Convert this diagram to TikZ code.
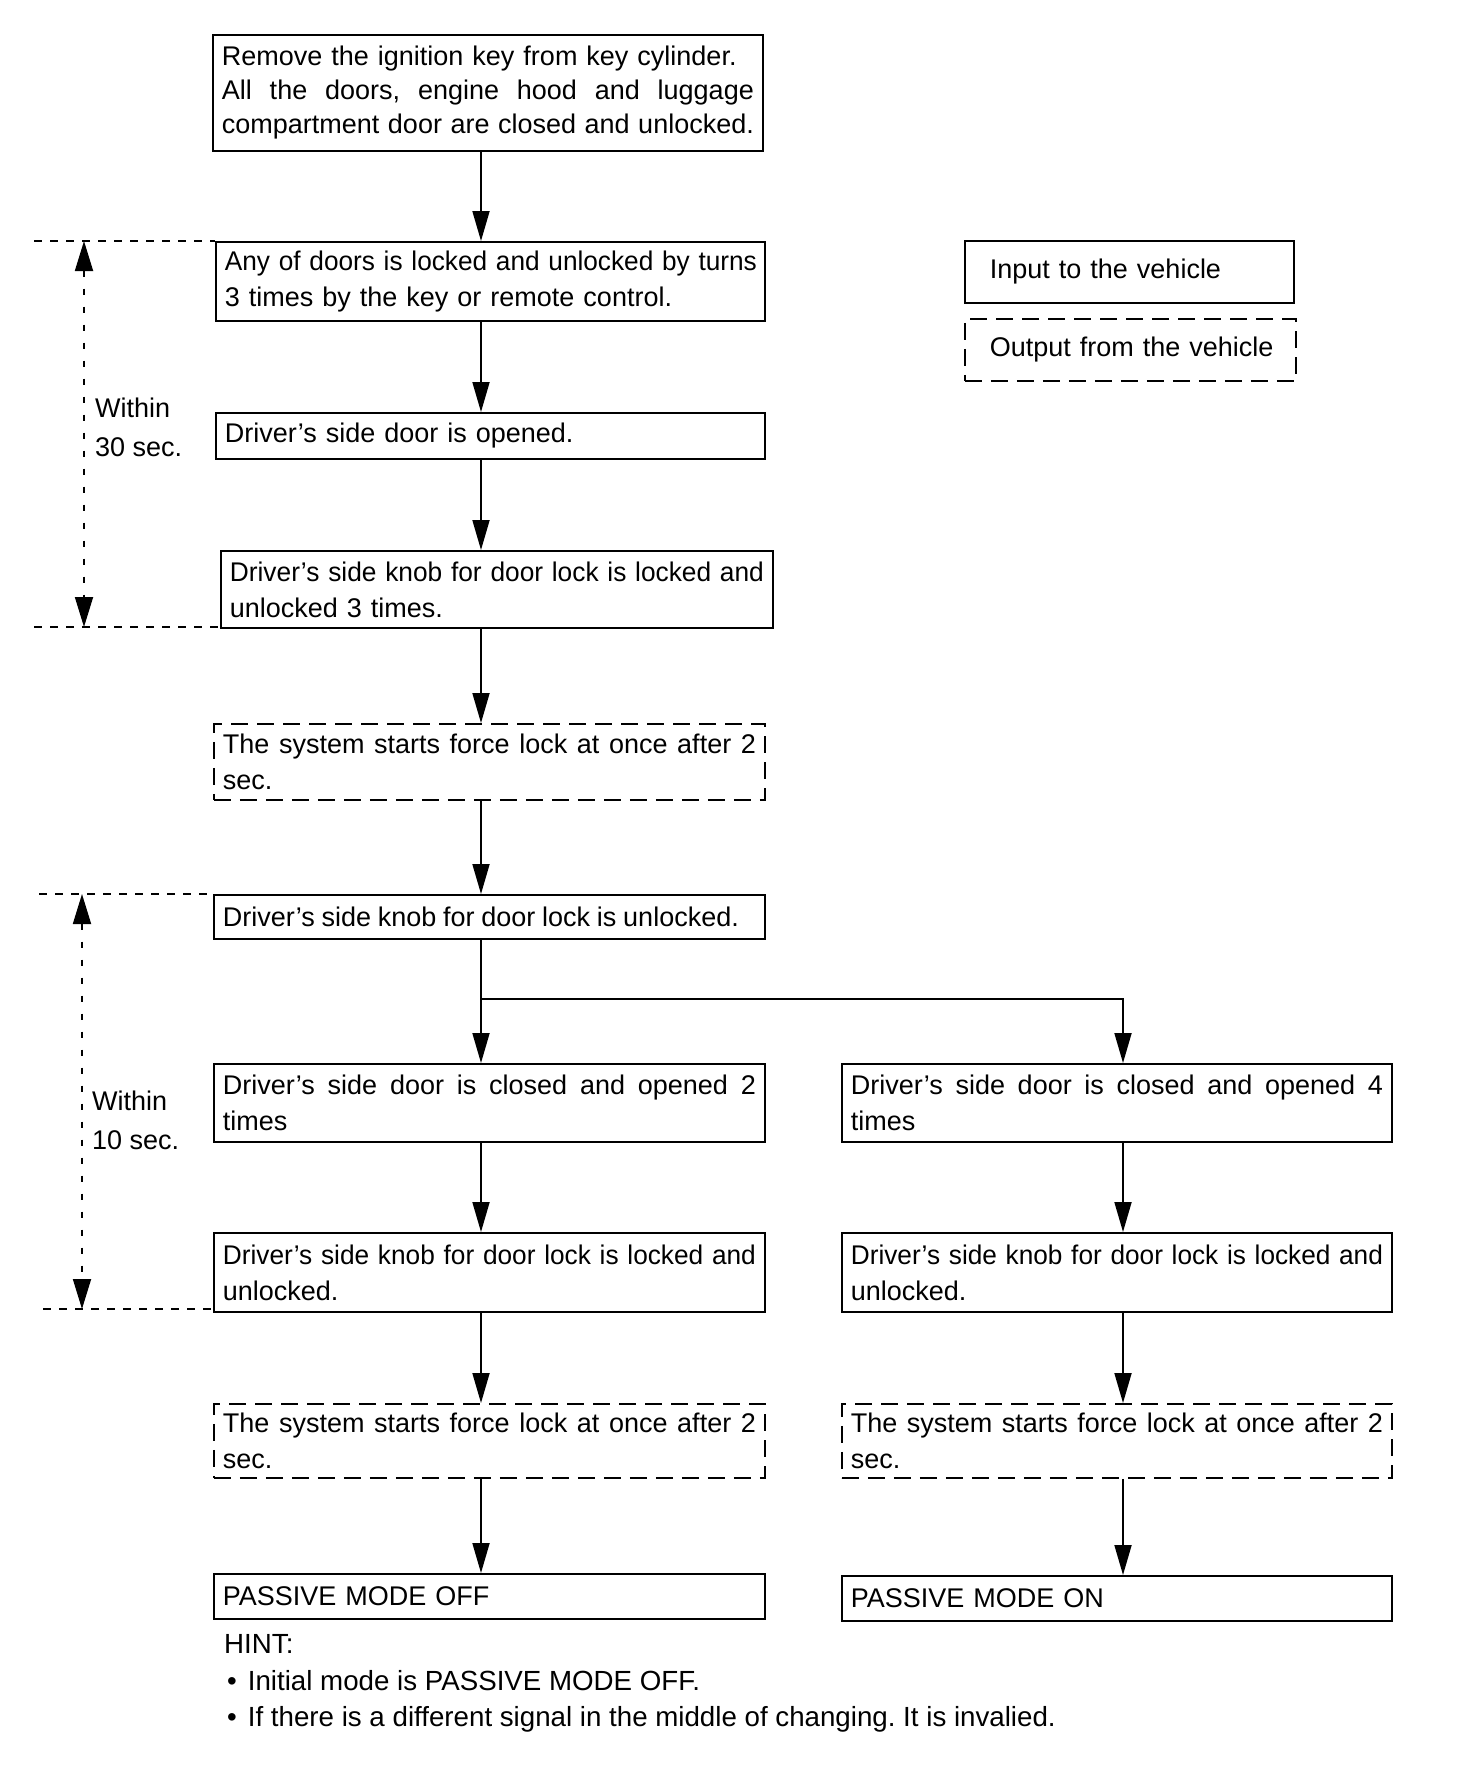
\documentclass[tikz,border=0pt]{standalone}
\usepackage{fontspec}
\usepackage{graphicx}
\setmainfont{Liberation Sans}
\usetikzlibrary{arrows.meta}
\newcommand{\jl}[2][533pt]{\leavevmode\hbox to #1{\spaceskip=7.5pt plus 40pt minus 2.5pt\relax #2}}
\newcommand{\sq}[2][533pt]{\leavevmode\resizebox{#1}{\height}{#2}}
\frenchspacing
\begin{document}
\begin{tikzpicture}[x=1pt,y=-1pt,
  box/.style={draw, line width=1.8pt, anchor=north west, inner xsep=9pt, inner ysep=0pt,
              align=left, font=\fontsize{27}{36}\selectfont},
  dbox/.style={box, dash pattern=on 17pt off 9pt},
  arr/.style={line width=1.8pt, -{Triangle[length=30pt,width=17pt]}},
  brk/.style={line width=1.6pt, dash pattern=on 8pt off 8pt},
  vdot/.style={line width=1.8pt, dash pattern=on 6pt off 12pt,
               {Triangle[length=30pt,width=18pt]}-{Triangle[length=30pt,width=18pt]}},
  lbl/.style={anchor=base west, inner sep=0pt, font=\fontsize{27}{36}\selectfont},
  hnt/.style={anchor=base west, inner sep=0pt, font=\fontsize{27.7}{36}\selectfont}]
\fill[white] (0,0) rectangle (1456,1766);
\useasboundingbox (0,0) rectangle (1456,1766);

% column axes
\coordinate (axL) at (481,0);
\coordinate (axR) at (1123,0);

% main boxes
\node[box, text width=532pt, minimum height=116pt, font=\fontsize{27}{34}\selectfont] (b1) at (212,34)
  {\mbox{Remove the ignition key from key cylinder.}\\\jl[532pt]{All the doors, engine hood and luggage}\\\jl[532pt]{compartment door are closed and unlocked.}};
\node[box, text width=531pt, minimum height=79pt] (b2) at (215,241)
  {\sq[532pt]{Any of doors is locked and unlocked by turns}\\\mbox{3 times by the key or remote control.}};
\node[box, text width=531pt, minimum height=46pt] (b3) at (215,412)
  {\mbox{Driver’s side door is opened.}};
\node[box, text width=534pt, minimum height=77pt] (b4) at (220,550)
  {\sq[534pt]{Driver’s side knob for door lock is locked and}\\\mbox{unlocked 3 times.}};
\node[dbox, text width=533pt, minimum height=76pt] (b5) at (213,723)
  {\jl[533pt]{The system starts force lock at once after 2}\\sec.};
\node[box, text width=533pt, minimum height=44pt] (b6) at (213,894)
  {\jl[516pt]{Driver’s side knob for door lock is unlocked.}};
\node[box, text width=533pt, minimum height=78pt] (b7L) at (213,1063)
  {\jl[533pt]{Driver’s side door is closed and opened 2}\\times};
\node[box, text width=532pt, minimum height=78pt] (b7R) at (841,1063)
  {\jl[532pt]{Driver’s side door is closed and opened 4}\\times};
\node[box, text width=533pt, minimum height=79pt] (b8L) at (213,1232)
  {\sq[533pt]{Driver’s side knob for door lock is locked and}\\unlocked.};
\node[box, text width=532pt, minimum height=79pt] (b8R) at (841,1232)
  {\sq[532pt]{Driver’s side knob for door lock is locked and}\\unlocked.};
\node[dbox, text width=533pt, minimum height=74pt] (b9L) at (213,1403)
  {\jl[533pt]{The system starts force lock at once after 2}\\sec.};
\node[dbox, text width=532pt, minimum height=74pt] (b9R) at (841,1403)
  {\jl[532pt]{The system starts force lock at once after 2}\\sec.};
\node[box, text width=533pt, minimum height=45pt] (b10L) at (213,1573)
  {\mbox{PASSIVE MODE OFF}};
\node[box, text width=532pt, minimum height=45pt] (b10R) at (841,1575)
  {\mbox{PASSIVE MODE ON}};

% legend
\node[box, inner xsep=25pt, text width=279pt, minimum height=62pt] (lin) at (964,240)
  {\mbox{Input to the vehicle}};
\node[dbox, inner xsep=25pt, text width=281pt, minimum height=62pt] (lout) at (964,318)
  {\mbox{Output from the vehicle}};

% connectors
\draw[arr] (b1.south -| axL) -- (b2.north -| axL);
\draw[arr] (b2.south -| axL) -- (b3.north -| axL);
\draw[arr] (b3.south -| axL) -- (b4.north -| axL);
\draw[arr] (b4.south -| axL) -- (b5.north -| axL);
\draw[arr] (b5.south -| axL) -- (b6.north -| axL);
\draw[arr] (b6.south -| axL) -- (b7L.north -| axL);
\coordinate (br) at (481,999);
\draw[arr] (br) -| (b7R.north -| axR);
\draw[arr] (b7L.south -| axL) -- (b8L.north -| axL);
\draw[arr] (b8L.south -| axL) -- (b9L.north -| axL);
\draw[arr] (b9L.south -| axL) -- (b10L.north -| axL);
\draw[arr] (b7R.south -| axR) -- (b8R.north -| axR);
\draw[arr] (b8R.south -| axR) -- (b9R.north -| axR);
\draw[arr] (b9R.south -| axR) -- (b10R.north -| axR);

% time brackets
\coordinate (t30) at (34,241);
\coordinate (u30) at (34,627);
\draw[brk] (t30) -- (t30 -| b2.west);
\draw[brk] (u30) -- (u30 -| b4.west);
\coordinate (v30t) at (84,241);
\coordinate (v30b) at (84,627);
\draw[vdot] (v30t) -- (v30b);
\node[lbl] (w30a) at (95,417) {Within};
\node[lbl] (w30b) at (95,456) {30 sec.};

\coordinate (t10) at (39,894);
\coordinate (u10) at (43,1309);
\draw[brk] (t10) -- (t10 -| b6.west);
\draw[brk] (u10) -- (u10 -| b8L.west);
\coordinate (v10t) at (82,894);
\coordinate (v10b) at (82,1309);
\draw[vdot] (v10t) -- (v10b);
\node[lbl] (w10a) at (92,1110) {Within};
\node[lbl] (w10b) at (92,1149) {10 sec.};

% hint
\node[hnt] (hint) at (224,1653) {HINT:};
\node[hnt] (h1) at (227,1690) {\textbullet\hspace{11pt}Initial mode is PASSIVE MODE OFF.};
\node[hnt] (h2) at (227,1726) {\textbullet\hspace{11pt}If there is a different signal in the middle of changing. It is invalied.};
\end{tikzpicture}
\end{document}
